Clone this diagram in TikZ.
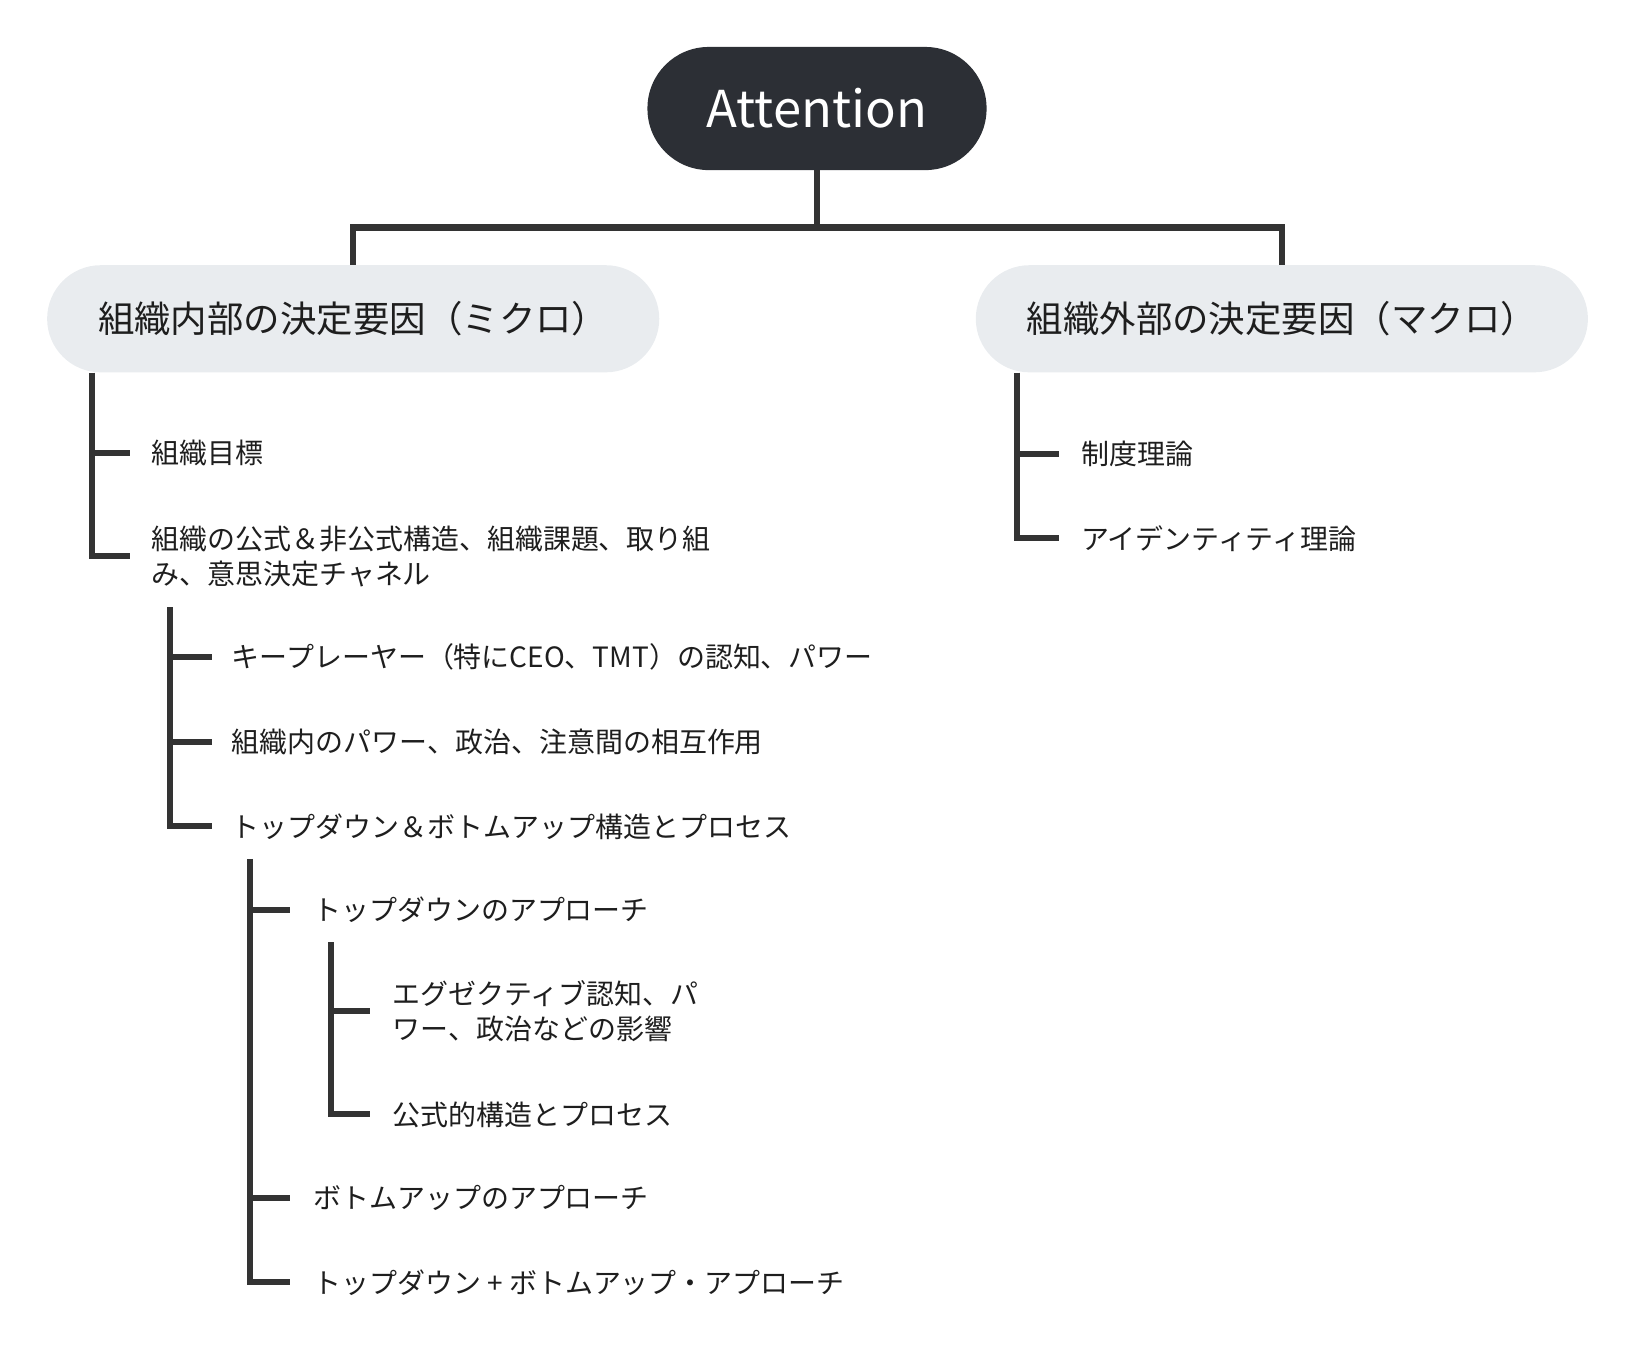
\documentclass[tikz,border=0pt]{standalone}
\usepackage{fontspec}
\setmainfont{Noto Sans CJK JP}
\usetikzlibrary{calc}
\definecolor{darkc}{HTML}{2C2F35}
\definecolor{linec}{HTML}{333333}
\definecolor{pillc}{HTML}{E9ECEF}
\definecolor{txtc}{HTML}{1E1E1E}
\tikzset{
  conn/.style={draw=linec, line width=4.4pt},
  leaf/.style={anchor=west, inner sep=0pt, font=\fontsize{20.1pt}{25pt}\selectfont, text=txtc, align=left},
  pill/.style={fill=pillc, minimum width=440pt, minimum height=77pt, rounded corners=38.5pt, inner sep=0pt, font=\fontsize{26.2pt}{30pt}\selectfont, text=txtc},
  root/.style={fill=darkc, text=white, minimum width=243.75pt, minimum height=88.5pt, rounded corners=44pt, inner sep=0pt, font=\fontsize{36.5pt}{44pt}\selectfont}
}
\begin{document}
\begin{tikzpicture}[x=0.75pt, y=-0.75pt]
\useasboundingbox (0,0) rectangle (1566,1307);
\node[root] (att) at (783,104) {Attention};
\node[pill] (lp) at (338.5,305.5) {組織内部の決定要因（ミクロ）};
\node[pill] (rp) at (1228.5,305.5) {組織外部の決定要因（マクロ）};
\coordinate (hub) at (783,218);
\draw[conn] (att.south) -- (hub);
\draw[conn] (lp.north) |- (hub) -| (rp.north);

% left tree level 1
\node[leaf] (a1) at (145,434) {組織目標};
\node[leaf] (a2) at (145,533) {組織の公式＆非公式構造、組織課題、取り組\\み、意思決定チャネル};
\coordinate (tA) at (88,357);
\draw[conn] (tA |- a1.west) -- ($(a1.west)+(-20,0)$);
\draw[conn] (tA) |- ($(a2.west)+(-20,0)$);

% level 2
\node[leaf] (b1) at (222,630) {キープレーヤー（特にCEO、TMT）の認知、パワー};
\node[leaf] (b2) at (222,711) {組織内のパワー、政治、注意間の相互作用};
\node[leaf] (b3) at (222,792) {トップダウン＆ボトムアップ構造とプロセス};
\coordinate (tB) at (163,582);
\draw[conn] (tB |- b1.west) -- ($(b1.west)+(-19,0)$);
\draw[conn] (tB |- b2.west) -- ($(b2.west)+(-19,0)$);
\draw[conn] (tB) |- ($(b3.west)+(-19,0)$);

% level 3
\node[leaf] (c1) at (300,872) {トップダウンのアプローチ};
\node[leaf] (c2) at (300,1148) {ボトムアップのアプローチ};
\node[leaf] (c3) at (300,1229) {トップダウン + ボトムアップ・アプローチ};
\coordinate (tC) at (240,823);
\draw[conn] (tC |- c1.west) -- ($(c1.west)+(-22,0)$);
\draw[conn] (tC |- c2.west) -- ($(c2.west)+(-22,0)$);
\draw[conn] (tC) |- ($(c3.west)+(-22,0)$);

% level 4
\node[leaf] (d1) at (376,969) {エグゼクティブ認知、パ\\ワー、政治などの影響};
\node[leaf] (d2) at (376,1068) {公式的構造とプロセス};
\coordinate (tD) at (317,903);
\draw[conn] (tD |- d1.west) -- ($(d1.west)+(-21,0)$);
\draw[conn] (tD) |- ($(d2.west)+(-21,0)$);

% right tree
\node[leaf] (r1) at (1036,435) {制度理論};
\node[leaf] (r2) at (1036,516) {アイデンティティ理論};
\coordinate (tR) at (975,357);
\draw[conn] (tR |- r1.west) -- ($(r1.west)+(-21,0)$);
\draw[conn] (tR) |- ($(r2.west)+(-21,0)$);
\end{tikzpicture}
\end{document}
